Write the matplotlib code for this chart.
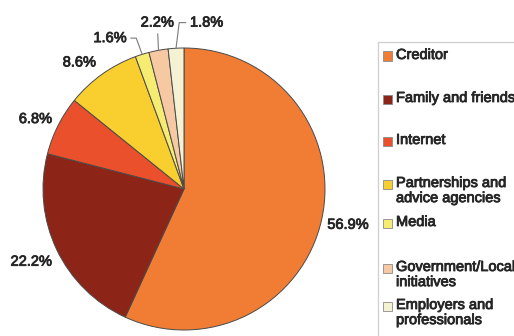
import numpy as np
import matplotlib
matplotlib.use('Agg')
import matplotlib.pyplot as plt
import matplotlib.patheffects as pe
from matplotlib.patches import Rectangle

plt.rcParams['font.family'] = ['Liberation Sans', 'DejaVu Sans']

# where people first heard about help with debt (% of respondents)
sources = ['Creditor', 'Family and friends', 'Internet',
           'Partnerships and\nadvice agencies', 'Media',
           'Government/Local\ninitiatives', 'Employers and\nprofessionals']
shares = [56.9, 22.2, 6.8, 8.6, 1.6, 2.2, 1.8]
colours = ['#f17d34', '#8c2417', '#e9502b', '#f9ce2f', '#f5ec71', '#f7c9a3', '#f4f2d3']

W, H = 514, 336
fig = plt.figure(figsize=(W / 100, H / 100), dpi=100)


def fx(x):
    return x / W


def fy(y):
    return 1 - y / H


ink = '#262626'
heavy = [pe.withStroke(linewidth=0.6, foreground=ink)]

# pie: centre (184,189), radius 141 px
ax = fig.add_axes([fx(43), fy(330), 282 / W, 282 / H])
wedges, _ = ax.pie(shares, colors=colours, startangle=90, counterclock=False,
                   radius=1.0, wedgeprops=dict(edgecolor='#4a4a4a', linewidth=0.7))
ax.set_xlim(-1, 1)
ax.set_ylim(-1, 1)
ax.set_aspect('equal')
ax.axis('off')

txt_kw = dict(fontsize=10.5, color=ink, ha='center', va='center', path_effects=heavy)
line_kw = dict(arrowstyle='-', color='#7a7a7a', lw=0.8, shrinkA=1, shrinkB=0)

# larger slices: label outside the rim (radius, angle nudge in degrees)
label_pos = {0: (1.19, 0), 1: (1.2, 0), 2: (1.165, 1.5), 3: (1.165, 4)}
for i, w in enumerate(wedges):
    if i in label_pos:
        r, nudge = label_pos[i]
        ang = np.deg2rad((w.theta1 + w.theta2) / 2 + nudge)
        ax.text(r * np.cos(ang), r * np.sin(ang), f'{shares[i]}%', **txt_kw)

# thin slices: labels pulled up with leader lines
small = {4: ((-0.525, 1.07), 'angle,angleA=0,angleB=110'),
         5: ((-0.19, 1.18), 'arc3'),
         6: ((0.16, 1.18), 'angle,angleA=0,angleB=83')}
for i, (pos, cs) in small.items():
    w = wedges[i]
    ang = np.deg2rad((w.theta1 + w.theta2) / 2)
    ax.annotate(f'{shares[i]}%', xy=(np.cos(ang), np.sin(ang)), xytext=pos,
                arrowprops=dict(connectionstyle=cs, **line_kw), **txt_kw)

# legend box running off the right and bottom edges
fig.patches.append(Rectangle((fx(378), fy(345)), fx(150), fy(42) - fy(345),
                             transform=fig.transFigure, facecolor='white',
                             edgecolor='#cfcfcf', linewidth=0.9))
rows = [56, 99, 141, 184, 223, 268, 306]
for name, c, y in zip(sources, colours, rows):
    fig.patches.append(Rectangle((fx(383), fy(y + 4.5)), 9 / W, 9 / H,
                                 transform=fig.transFigure, facecolor=c,
                                 edgecolor='#8a8a8a', linewidth=0.6))
    fig.text(fx(396), fy(y - 8), name, fontsize=10.5, color=ink,
             ha='left', va='top', linespacing=1.1, path_effects=heavy)

fig.savefig('out.png', dpi=100)
